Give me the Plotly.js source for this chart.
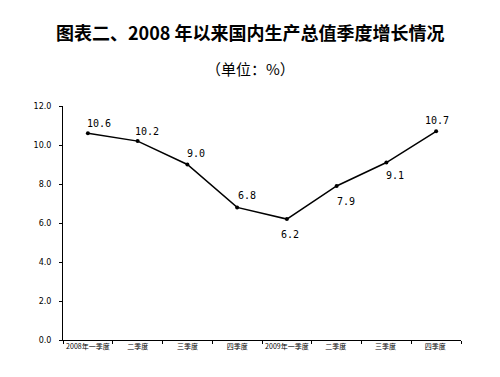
<!DOCTYPE html>
<html>
<head>
<meta charset="utf-8">
<script src="https://cdn.plot.ly/plotly-3.0.1.min.js"></script>
<style>html,body{margin:0;padding:0;background:#fff;}#chart{width:500px;height:377px;}</style>
</head>
<body>
<div id="chart"></div>
<script>
var categories = ["2008年一季度", "二季度", "三季度", "四季度", "2009年一季度", "二季度 ", "三季度 ", "四季度 "];
var growth = [10.6, 10.2, 9.0, 6.8, 6.2, 7.9, 9.1, 10.7];
var labelDx = [11, 9, 9, 10, 3, 9, 9, 1];
var labelDy = [10, 10, 11, 12, -15, -16, -13, 11];
var yTicks = [0, 2, 4, 6, 8, 10, 12];
var yTickText = ["0.0", "2.0", "4.0", "6.0", "8.0", "10.0", "12.0"];

var trace = {
  x: categories,
  y: growth,
  type: "scatter",
  mode: "lines+markers",
  line: {color: "#000", width: 1.5},
  marker: {color: "#000", size: 4},
  cliponaxis: false,
  hoverinfo: "skip"
};

var annotations = growth.map(function(v, i){
  return {
    x: categories[i], y: v, xref: "x", yref: "y",
    text: v.toFixed(1), showarrow: false,
    xanchor: "center", yanchor: "middle",
    xshift: labelDx[i], yshift: labelDy[i],
    font: {family: "DejaVu Sans Mono, monospace", size: 10, color: "#000"}
  };
});
annotations.push(
  {text: "<b>图表二、2008 年以来国内生产总值季度增长情况</b>", xref: "paper", yref: "paper",
   x: 0.47, y: 1, xanchor: "center", yanchor: "middle", yshift: 74, showarrow: false,
   font: {size: 18, family: "Noto Sans CJK SC, sans-serif", color: "#000"}},
  {text: "（单位：%）", xref: "paper", yref: "paper",
   x: 0.47, y: 1, xanchor: "center", yanchor: "middle", yshift: 38, showarrow: false,
   font: {size: 15, family: "Noto Sans CJK SC, sans-serif", color: "#000"}}
);

var layout = {
  width: 500, height: 377,
  margin: {l: 63, r: 39, t: 106, b: 37},
  paper_bgcolor: "#fff", plot_bgcolor: "#fff",
  showlegend: false,
  font: {family: "Noto Sans CJK SC, sans-serif", color: "#000"},
  xaxis: {
    type: "category",
    showline: true, linecolor: "#000", linewidth: 1,
    ticks: "outside", ticklen: 3, tickcolor: "#000",
    tickson: "boundaries",
    tickangle: 0,
    showgrid: false, zeroline: false,
    tickfont: {size: 7, family: "Noto Sans CJK SC, sans-serif", color: "#000"},
    range: [-0.5, 7.5]
  },
  yaxis: {
    range: [0, 12],
    tickvals: yTicks, ticktext: yTickText,
    showline: true, linecolor: "#000", linewidth: 1,
    ticks: "outside", ticklen: 3, tickcolor: "#000",
    showgrid: false, zeroline: false,
    tickfont: {size: 8, family: "DejaVu Sans, sans-serif", color: "#000"},
    ticklabelstandoff: 6
  },
  annotations: annotations
};

Plotly.newPlot("chart", [trace], layout, {displayModeBar: false, staticPlot: true});
</script>
</body>
</html>
